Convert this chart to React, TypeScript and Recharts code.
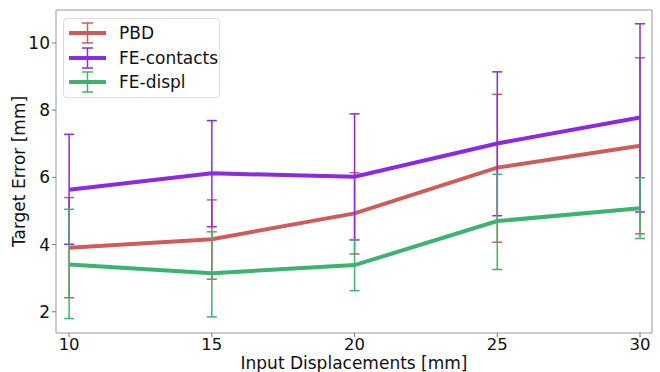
import {
  ComposedChart,
  Line,
  ErrorBar,
  XAxis,
  YAxis,
  ReferenceArea,
} from "recharts"

const displacements = [10, 15, 20, 25, 30]

const pbdMean = [3.91, 4.16, 4.93, 6.29, 6.94]
const pbdLow = [2.42, 2.97, 3.72, 4.07, 4.32]
const pbdHigh = [5.4, 5.33, 6.14, 8.47, 9.56]

const contactsMean = [5.63, 6.12, 6.02, 7.01, 7.78]
const contactsLow = [4.01, 4.53, 4.14, 4.86, 4.97]
const contactsHigh = [7.28, 7.69, 7.89, 9.14, 10.57]

const displMean = [3.41, 3.15, 3.39, 4.7, 5.08]
const displLow = [1.8, 1.85, 2.63, 3.26, 4.18]
const displHigh = [5.05, 4.38, 4.15, 6.09, 5.99]

const xTicks = [10, 15, 20, 25, 30]
const yTicks = [2, 4, 6, 8, 10]

const X_DOMAIN: [number, number] = [9.54, 30.42]
const Y_DOMAIN: [number, number] = [1.37, 10.98]

const FONT = "'DejaVu Sans', sans-serif"

const series = [
  { key: "pbd", name: "PBD", color: "#cd5c5c" },
  { key: "contacts", name: "FE-contacts", color: "#8a2be2" },
  { key: "displ", name: "FE-displ", color: "#3cb371" },
]

const data = displacements.map((d, i) => ({
  x: d,
  pbd: pbdMean[i],
  pbdErr: [pbdMean[i] - pbdLow[i], pbdHigh[i] - pbdMean[i]],
  contacts: contactsMean[i],
  contactsErr: [contactsMean[i] - contactsLow[i], contactsHigh[i] - contactsMean[i]],
  displ: displMean[i],
  displErr: [displMean[i] - displLow[i], displHigh[i] - displMean[i]],
}))

function LegendBox() {
  return (
    <div
      style={{
        position: "absolute",
        left: 63,
        top: 18,
        boxSizing: "border-box",
        width: 157,
        height: 80,
        border: "1px solid #ddd",
        borderRadius: 4,
        background: "rgba(255,255,255,0.8)",
        padding: "2px 0 0 4px",
        fontFamily: FONT,
        fontSize: 17,
        color: "#111",
      }}
    >
      {series.map((s) => (
        <div key={s.key} style={{ display: "flex", alignItems: "center", height: 24.5 }}>
          <svg width={40} height={24} style={{ marginRight: 11 }}>
            <line x1={1} y1={12} x2={38} y2={12} stroke={s.color} strokeWidth={4} />
            <line x1={19.5} y1={2} x2={19.5} y2={22} stroke={s.color} strokeWidth={1.5} />
            <line x1={14} y1={2} x2={25} y2={2} stroke={s.color} strokeWidth={1.5} />
            <line x1={14} y1={22} x2={25} y2={22} stroke={s.color} strokeWidth={1.5} />
          </svg>
          <span>{s.name}</span>
        </div>
      ))}
    </div>
  )
}

export default function App() {
  return (
    <div style={{ position: "absolute", left: 0, top: 0, width: 660, height: 372, background: "#fff" }}>
      <ComposedChart
        width={660}
        height={372}
        data={data}
        margin={{ top: 10, right: 8, left: 0, bottom: 0 }}
      >
        <XAxis
          dataKey="x"
          type="number"
          domain={X_DOMAIN}
          ticks={xTicks}
          allowDataOverflow
          height={39}
          axisLine={false}
          tickLine={{ stroke: "#777" }}
          tickSize={4}
          tick={{ fontSize: 16.5, fill: "#111", fontFamily: FONT, dy: -1 }}
          label={{
            value: "Input Displacements [mm]",
            position: "insideBottom",
            offset: 3,
            fontSize: 17,
            fill: "#111",
            fontFamily: FONT,
          }}
        />
        <YAxis
          type="number"
          domain={Y_DOMAIN}
          ticks={yTicks}
          allowDataOverflow
          width={56}
          axisLine={false}
          tickLine={{ stroke: "#777" }}
          tickSize={4}
          tick={{ fontSize: 17, fill: "#111", fontFamily: FONT }}
          label={{
            value: "Target Error [mm]",
            angle: -90,
            position: "insideLeft",
            offset: 19,
            style: { textAnchor: "middle" },
            fontSize: 17,
            fill: "#111",
            fontFamily: FONT,
          }}
        />
        <ReferenceArea
          x1={X_DOMAIN[0]}
          x2={X_DOMAIN[1]}
          y1={Y_DOMAIN[0]}
          y2={Y_DOMAIN[1]}
          fill="none"
          stroke="#999"
          strokeWidth={1}
          fillOpacity={0}
        />
        {series.map((s) => (
          <Line
            key={s.key}
            dataKey={s.key}
            name={s.name}
            stroke={s.color}
            strokeWidth={4}
            dot={false}
            activeDot={false}
            isAnimationActive={false}
          >
            <ErrorBar
              dataKey={`${s.key}Err`}
              direction="y"
              width={5}
              stroke={s.color}
              strokeWidth={1.5}
              isAnimationActive={false}
            />
          </Line>
        ))}
      </ComposedChart>
      <LegendBox />
    </div>
  )
}
